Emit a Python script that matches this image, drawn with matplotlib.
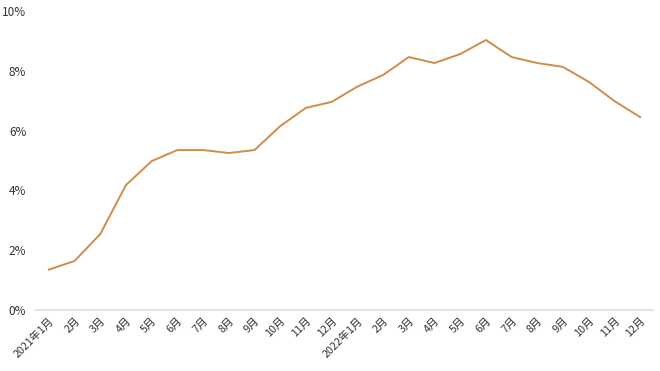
import matplotlib
matplotlib.use('Agg')
import matplotlib.pyplot as plt
import numpy as np

plt.rcParams['font.family'] = ['Noto Sans CJK JP', 'DejaVu Sans']

months = ['2021年1月', '2月', '3月', '4月', '5月', '6月', '7月', '8月', '9月', '10月', '11月', '12月',
          '2022年1月', '2月', '3月', '4月', '5月', '6月', '7月', '8月', '9月', '10月', '11月', '12月']
rate = [1.35, 1.64, 2.54, 4.18, 4.98, 5.35, 5.35, 5.25, 5.35, 6.15, 6.76, 6.96,
        7.47, 7.86, 8.46, 8.26, 8.56, 9.03, 8.46, 8.26, 8.13, 7.63, 6.99, 6.45]

fig = plt.figure(figsize=(6.6, 3.71), dpi=100)
ax = fig.add_axes([36 / 660, 1 - 310 / 371, (653 - 36) / 660, 299 / 371])

x = np.arange(len(months))
ax.plot(x, rate, color='#D08C48', linewidth=1.4)

ax.set_xlim(-0.5, len(months) - 0.5)
ax.set_ylim(0, 10)
ax.set_yticks([0, 2, 4, 6, 8, 10])
ax.set_yticklabels([f'{v}%' for v in [0, 2, 4, 6, 8, 10]], fontsize=8.5, color='#333333')
ax.set_xticks(x)
ax.set_xticklabels(months, rotation=45, ha='right', rotation_mode='anchor', fontsize=7.8, color='#333333')

for s in ['top', 'right', 'left']:
    ax.spines[s].set_visible(False)
ax.spines['bottom'].set_color('#E3E3E3')
ax.spines['bottom'].set_linewidth(1.5)
ax.tick_params(axis='both', length=0)
ax.tick_params(axis='y', pad=7)
ax.tick_params(axis='x', pad=4)

fig.savefig('out.png', dpi=100)
